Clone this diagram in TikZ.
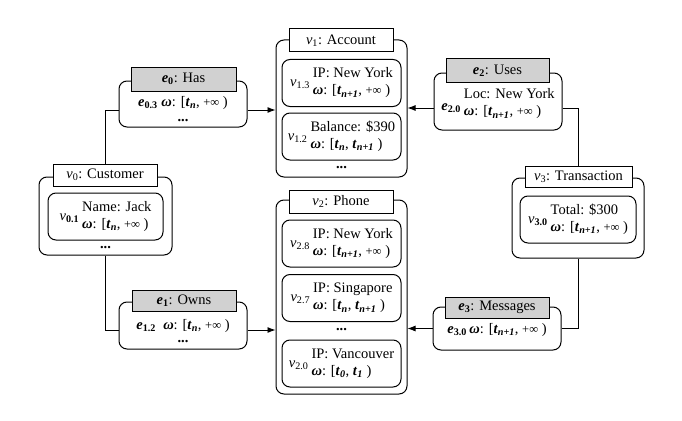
\documentclass[tikz,border=0pt]{standalone}
\usepackage{fontspec}
\setmainfont{Liberation Serif}
\usetikzlibrary{arrows.meta}
\newcommand\vl[1]{\textit{v}\textsubscript{#1}}
\newcommand\el[1]{\textbf{\textit{e}\textsubscript{#1}}}
\newcommand\om{\textbf{\textit{ω}}}
\newcommand\tl[1]{\textbf{\textit{t}\textsubscript{\textit{#1}}}}
\newcommand\inft{{\fontsize{12.5}{12.5}\selectfont +∞}}
\newcommand\rec[3]{#1\hspace{3pt}\begin{tabular}[c]{@{}l@{}}#2\\#3\end{tabular}}
\newcommand\dts{\textbf{...}}
\begin{document}
\begin{tikzpicture}[x=1pt,y=-1pt, font=\fontsize{14.5}{17}\selectfont,
  outer/.style={draw, line width=1pt, rounded corners=8pt, inner sep=0pt},
  innerbox/.style={draw, line width=1pt, rounded corners=8pt, inner sep=0pt, minimum width=119pt, minimum height=47pt},
  vtitle/.style={draw, fill=white, line width=1pt, inner sep=0pt, minimum width=104pt, minimum height=23pt},
  etitle/.style={vtitle, fill=black!18},
  txt/.style={inner sep=0pt},
  conn/.style={line width=0.9pt},
  arr/.style={conn, -{Latex[length=8pt,width=6pt]}}]
\useasboundingbox (0,0) rectangle (682,420);
% ---- outer boxes
\node[outer, minimum width=131pt, minimum height=137pt] (v1o) at (341.5,108.5) {};
\node[outer, minimum width=131pt, minimum height=194pt] (v2o) at (341.5,297) {};
\node[outer, minimum width=133pt, minimum height=78pt] (v0o) at (105.5,216) {};
\node[outer, minimum width=132pt, minimum height=80pt] (v3o) at (578,218) {};
\node[outer, minimum width=128pt, minimum height=46pt] (e0o) at (183,104) {};
\node[outer, minimum width=128pt, minimum height=47pt] (e1o) at (183,325.5) {};
\node[outer, minimum width=128pt, minimum height=57pt] (e2o) at (498,101.5) {};
\node[outer, minimum width=128pt, minimum height=43pt] (e3o) at (497,328.5) {};
% ---- titles
\node[vtitle] (v1t) at (341,40.5) {\vl{1}: Account};
\node[vtitle] (v2t) at (341,201.5) {\vl{2}: Phone};
\node[vtitle, minimum height=22pt] (v0t) at (105,175) {\vl{0}: Customer};
\node[vtitle, minimum width=107pt, minimum height=21pt] (v3t) at (578.5,177) {\vl{3}: Transaction};
\node[etitle, minimum width=105pt, minimum height=24pt] (e0t) at (183.5,79) {\el{0}: Has};
\node[etitle, minimum height=21pt] (e1t) at (184,300.5) {\el{1}: Owns};
\node[etitle, minimum width=103pt] (e2t) at (497.5,70.5) {\el{2}: Uses};
\node[etitle, minimum height=21pt] (e3t) at (497,307.5) {\el{3}: Messages};
% ---- v1 records
\node[innerbox] (v13) at (341.5,83) {\rec{\vl{1.3}}{IP: New York}{\om: [\tl{n+1}, \inft\ )}};
\node[innerbox] (v12) at (341.5,136.5) {\rec{\vl{1.2}}{Balance: \$390}{\om: [\tl{n}, \tl{n+1} )}};
\node[txt] (v1d) at (341.5,168) {\dts};
% ---- v2 records
\node[innerbox] (v28) at (341.5,243.5) {\rec{\vl{2.8}}{IP: New York}{\om: [\tl{n+1}, \inft\ )}};
\node[innerbox] (v27) at (341.5,298) {\rec{\vl{2.7}}{IP: Singapore}{\om: [\tl{n}, \tl{n+1} )}};
\node[txt] (v2d) at (341.5,330) {\dts};
\node[innerbox] (v20) at (341.5,363.5) {\rec{\vl{2.0}}{IP: Vancouver}{\om: [\tl{0}, \tl{1} )}};
% ---- v0 and v3 records
\node[innerbox, minimum width=115pt] (v01) at (105.5,216.5) {\rec{\vl{\textbf{0.1}}}{Name: Jack}{\om: [\tl{n}, \inft\ )}};
\node[txt] (v0d) at (105.5,248) {\dts};
\node[innerbox, minimum width=116pt] (v30) at (578,219.5) {\rec{\vl{\textbf{3.0}}}{Total: \$300}{\om: [\tl{n+1}, \inft\ )}};
% ---- edge records
\node[txt] (e03) at (183,103) {\el{0.3} \om: [\tl{n}, \inft\ )};
\node[txt] (e0d) at (183,120.5) {\dts};
\node[txt] (e12) at (183,326) {\el{1.2}\ \ \om: [\tl{n}, \inft\ )};
\node[txt] (e1d) at (183,342) {\dts};
\node[txt] (e20) at (498,104) {\rec{\raisebox{-3pt}{\el{2.0}}}{Loc: New York}{\om: [\tl{n+1}, \inft\ )}};
\node[txt] (e30) at (497,330) {\el{3.0}\,\om: [\tl{n+1}, \inft\ )};
% ---- connector anchors
\coordinate (e0l) at ([yshift=-6pt]e0o.west);
\coordinate (e0r) at ([yshift=-6pt]e0o.east);
\coordinate (e1l) at ([yshift=-4.5pt]e1o.west);
\coordinate (e1r) at ([yshift=-4.5pt]e1o.east);
\coordinate (e2l) at ([yshift=-6.5pt]e2o.west);
\coordinate (e2r) at ([yshift=-6.5pt]e2o.east);
% ---- connectors
\draw[conn] (v0t.north) |- (e0l);
\draw[arr] (e0r) -- (e0r -| v1o.west);
\draw[conn] (v0o.south) |- (e1l);
\draw[arr] (e1r) -- (e1r -| v2o.west);
\draw[arr] (e2l) -- (e2l -| v1o.east);
\draw[conn] (e2r) -| (v3t.north);
\draw[conn] (v3o.south) |- (e3o.east);
\draw[arr] (e3o.west) -- (e3o.west -| v2o.east);
\end{tikzpicture}
\end{document}
